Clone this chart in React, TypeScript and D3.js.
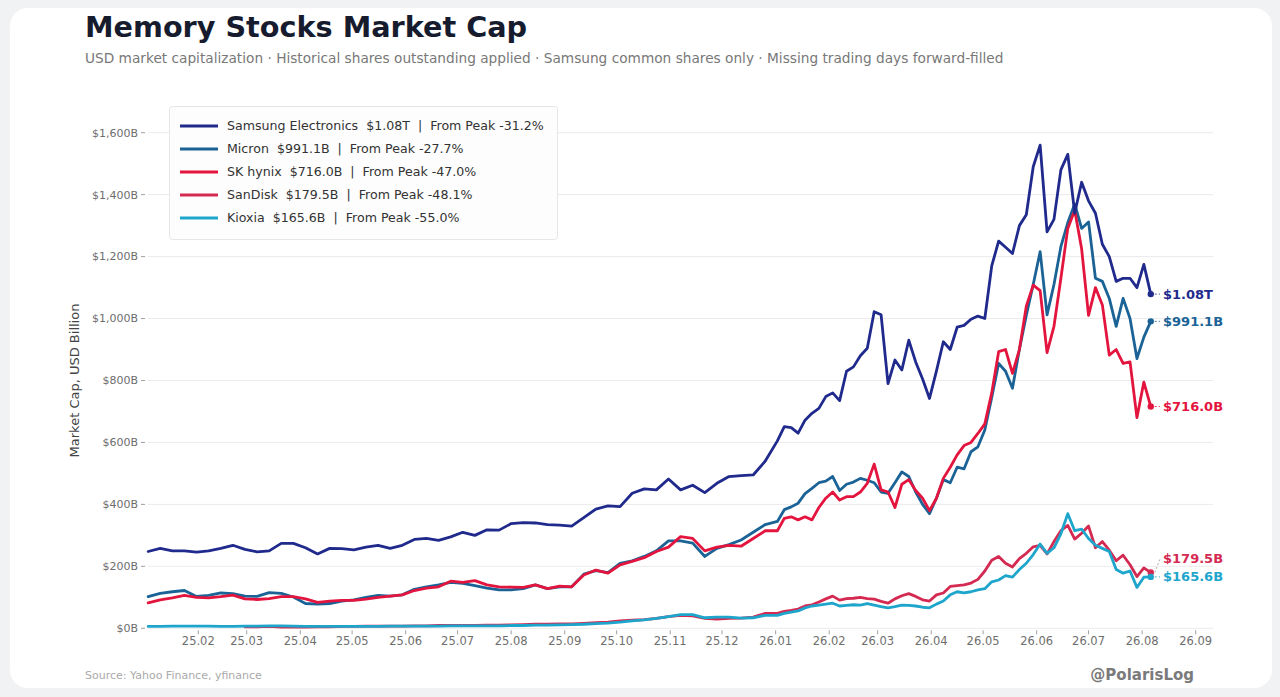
import React from 'react';
import * as d3 from 'd3';

// sample dates: weekly through 2025, every 4 days in 2026
const dates2025 = d3.range(52).map(i => d3.timeDay.offset(new Date(2025, 0, 3), 7 * i));
const dates2026 = d3.range(55).map(i => d3.timeDay.offset(new Date(2026, 0, 2), 4 * i));
const dates = [...dates2025, ...dates2026];

// market cap, USD billion
const samsung = [
  248, 258, 250, 250, 246, 250, 258, 268, 255, 247, 250, 274, 274, 260, 240, 258, 257, 253, 262, 268,
  258, 268, 287, 290, 284, 295, 310, 300, 318, 317, 338, 341, 340, 335, 333, 330, 357, 385, 395, 393,
  436, 450, 447, 482, 447, 462, 438, 468, 490, 493, 495, 540,
  605, 651, 648, 630, 672, 694, 710, 748, 760, 735, 830, 844, 880, 904, 1022, 1012, 790, 866, 834, 930,
  860, 805, 742, 830, 925, 900, 972, 978, 998, 1008, 1000, 1170, 1250, 1230, 1210, 1300, 1335, 1490, 1560, 1280,
  1320, 1480, 1530, 1340, 1440, 1380, 1340, 1240, 1200, 1120, 1130, 1130, 1100, 1175, 1079,
];
const micron = [
  102, 113, 118, 122, 103, 106, 114, 112, 104, 103, 115, 113, 101, 80, 78, 80, 88, 92, 100, 106,
  104, 108, 126, 134, 140, 148, 145, 138, 130, 124, 124, 128, 140, 128, 134, 134, 175, 186, 180, 210,
  218, 232, 250, 282, 282, 275, 232, 258, 270, 285, 310, 335,
  345, 383, 392, 404, 435, 452, 470, 475, 490, 445, 465, 472, 484, 478, 470, 440, 436, 470, 505, 490,
  440, 400, 370, 420, 480, 470, 520, 515, 570, 586, 640, 745, 855, 830, 775, 900, 1010, 1110, 1216, 1012,
  1110, 1232, 1310, 1370, 1291, 1312, 1130, 1120, 1065, 975, 1065, 1000, 871, 940, 991,
];
const skHynix = [
  82, 92, 98, 106, 100, 98, 102, 107, 95, 93, 96, 102, 102, 95, 84, 88, 90, 90, 94, 100,
  104, 108, 122, 130, 134, 152, 148, 154, 140, 134, 133, 132, 140, 128, 136, 134, 172, 188, 178, 205,
  216, 228, 248, 262, 296, 290, 250, 262, 268, 265, 290, 315,
  315, 355, 360, 350, 360, 350, 390, 420, 440, 414, 425, 425, 440, 468, 530, 447, 440, 390, 465, 480,
  445, 420, 380, 420, 484, 520, 560, 590, 600, 629, 660, 760, 893, 900, 823, 900, 1040, 1108, 1090, 890,
  975, 1130, 1291, 1350, 1225, 1010, 1100, 1044, 882, 900, 855, 860, 680, 795, 716,
];
const sanDisk = [
  null, null, null, null, null, null, null, null, 5, 5, 6, 4, 4, 4, 5, 5, 6, 6, 7, 7,
  7, 7, 8, 8, 9, 9, 9, 9, 10, 10, 11, 12, 13, 13, 14, 14, 16, 18, 20, 24,
  26, 28, 32, 38, 42, 40, 32, 30, 32, 33, 36, 48,
  48, 55, 58, 62, 72, 76, 85, 95, 104, 91, 96, 97, 100, 96, 94, 87, 81, 95, 105, 112,
  103, 92, 88, 108, 114, 135, 138, 140, 146, 158, 185, 220, 232, 210, 198, 225, 242, 263, 268, 240,
  280, 315, 332, 288, 307, 330, 260, 280, 252, 218, 236, 205, 167, 195, 180,
];
const kioxia = [
  6, 6, 7, 7, 7, 7, 6, 6, 7, 7, 8, 8, 7, 6, 6, 6, 6, 6, 6, 6,
  7, 7, 7, 7, 7, 8, 8, 8, 8, 8, 9, 9, 10, 10, 11, 12, 13, 15, 17, 20,
  24, 27, 32, 38, 44, 44, 34, 36, 36, 33, 34, 42,
  42, 48, 52, 56, 66, 72, 75, 78, 81, 72, 74, 76, 75, 80, 75, 70, 66, 70, 75, 74,
  72, 68, 66, 78, 88, 108, 118, 114, 118, 124, 128, 150, 156, 170, 165, 190, 210, 238, 272, 242,
  260, 305, 370, 315, 320, 290, 268, 258, 248, 190, 178, 185, 132, 165, 166,
];

const seriesNames = ['Samsung Electronics', 'Micron', 'SK hynix', 'SanDisk', 'Kioxia'];
const seriesColors = ['#1f2a8c', '#1b6396', '#e3143d', '#d42a52', '#1ea5cc'];
const lastLabels = ['$1.08T', '$991.1B', '$716.0B', '$179.5B', '$165.6B'];
const fromPeak = ['-31.2%', '-27.7%', '-47.0%', '-48.1%', '-55.0%'];
const yTicks = [0, 200, 400, 600, 800, 1000, 1200, 1400, 1600];

const W = 1280;
const H = 697;
const plot = { left: 148, right: 1213, top: 132.7, bottom: 628.3 };
const font = '"DejaVu Sans", sans-serif';

export default function App() {
  React.useEffect(() => {
    document.body.style.margin = '0';
    document.body.style.background = '#f1f2f4';
  }, []);

  const x = d3.scaleTime()
    .domain([new Date(2025, 0, 1), new Date(2026, 8, 11)])
    .range([144.7, 1213]);
  const y = d3.scaleLinear().domain([0, 1600]).range([plot.bottom, plot.top]);
  const xTicks = d3.timeMonth.range(new Date(2025, 1, 1), new Date(2026, 8, 2));
  const fmtMonth = d3.timeFormat('%y.%m');

  const all = [samsung, micron, skHynix, sanDisk, kioxia];
  const line = d3.line<number | null>()
    .defined(d => d != null)
    .x((_, i) => x(dates[i]))
    .y(d => y(d as number))
    .curve(d3.curveLinear);

  // draw order: Samsung on top
  const drawOrder = [1, 2, 3, 4, 0];

  // end labels with simple collision push
  const lastX = x(dates[dates.length - 1]);
  const ends = all.map((s, i) => ({ i, dotY: y(s[s.length - 1] as number), labelY: y(s[s.length - 1] as number) }));
  const sorted = [...ends].sort((a, b) => b.dotY - a.dotY);
  for (let k = 1; k < sorted.length; k++) {
    const below = sorted[k - 1];
    if (sorted[k].labelY > below.labelY - 18) sorted[k].labelY = below.labelY - 18;
  }

  return (
    <svg width={W} height={H} style={{ display: 'block' }} fontFamily={font}>
      <rect x={0} y={0} width={W} height={H} fill="#f1f2f4" />
      <rect x={10} y={8} width={1262} height={680} rx={18} fill="#ffffff" />

      <text x={85} y={37} fontSize={28.7} fontWeight="bold" fill="#161b2e">Memory Stocks Market Cap</text>
      <text x={85} y={63} fontSize={13.7} fill="#787878">
        USD market capitalization · Historical shares outstanding applied · Samsung common shares only · Missing trading days forward-filled
      </text>

      {/* grid + y axis */}
      {yTicks.map(t => (
        <g key={t}>
          <line x1={plot.left} x2={plot.right} y1={y(t)} y2={y(t)} stroke="#ebebeb" strokeWidth={1} />
          <line x1={141} x2={145} y1={y(t)} y2={y(t)} stroke="#888" strokeWidth={0.8} />
          <text x={138} y={y(t)} dy="0.35em" textAnchor="end" fontSize={11} fill="#6e6e6e">
            {`$${d3.format(',')(t)}B`}
          </text>
        </g>
      ))}
      <text transform={`translate(79,${(plot.top + plot.bottom) / 2}) rotate(-90)`} textAnchor="middle"
        fontSize={13} fill="#444">Market Cap, USD Billion</text>

      {/* x axis */}
      {xTicks.map(d => (
        <g key={+d}>
          <line x1={x(d)} x2={x(d)} y1={plot.bottom + 2} y2={plot.bottom + 6} stroke="#888" strokeWidth={0.8} />
          <text x={x(d)} y={645} textAnchor="middle" fontSize={11.5} fill="#6e6e6e">{fmtMonth(d)}</text>
        </g>
      ))}

      {/* lines */}
      {drawOrder.map(i => (
        <path key={i} d={line(all[i]) || ''} fill="none" stroke={seriesColors[i]} strokeWidth={2.8}
          strokeLinejoin="round" strokeLinecap="round" />
      ))}

      {/* end markers and labels */}
      {ends.map(e => (
        <g key={e.i}>
          <line x1={lastX + 4} y1={e.dotY} x2={1160} y2={e.labelY} stroke={e.labelY === e.dotY ? seriesColors[e.i] : '#999'}
            strokeWidth={1} strokeDasharray="2,2" opacity={0.8} />
          <circle cx={lastX} cy={e.dotY} r={3.2} fill={seriesColors[e.i]} />
          <text x={1163} y={e.labelY} dy="0.35em" fontSize={13} fontWeight="bold" fill={seriesColors[e.i]}>
            {lastLabels[e.i]}
          </text>
        </g>
      ))}

      {/* legend */}
      <rect x={169.5} y={106.5} width={388} height={133} rx={3} fill="#fdfdfd" stroke="#e6e6e6" />
      {seriesNames.map((n, i) => (
        <g key={n} transform={`translate(0,${126 + i * 23})`}>
          <line x1={180} x2={218} y1={0} y2={0} stroke={seriesColors[i]} strokeWidth={3} />
          <text x={227} y={0} dy="0.35em" fontSize={12.6} fill="#333" style={{ whiteSpace: 'pre' }}>
            {`${n}  ${lastLabels[i]}  |  From Peak ${fromPeak[i]}`}
          </text>
        </g>
      ))}

      <text x={85} y={679} fontSize={11} fill="#aaaaaa">Source: Yahoo Finance, yfinance</text>
      <text x={1194} y={680} textAnchor="end" fontSize={15} fontWeight="bold" fill="#7a7a7a">@PolarisLog</text>
    </svg>
  );
}
